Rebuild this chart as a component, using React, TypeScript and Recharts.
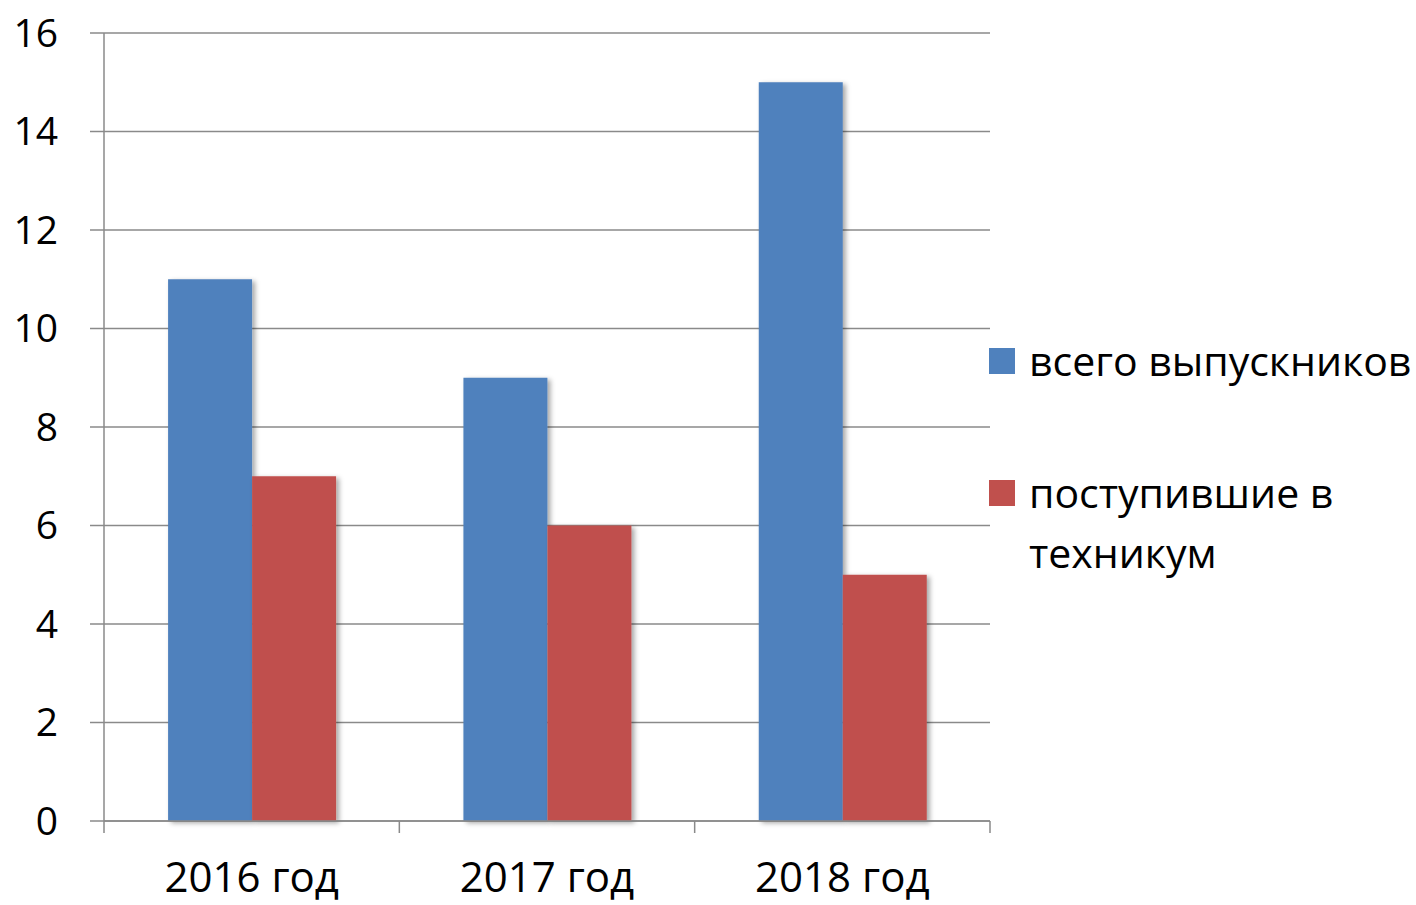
import { BarChart, Bar, XAxis, YAxis, CartesianGrid } from "recharts"

const years = ["2016 год", "2017 год", "2018 год"]
const graduates = [11, 9, 15]
const admitted = [7, 6, 5]
const yTicks = [0, 2, 4, 6, 8, 10, 12, 14, 16]

const SERIES = [
  { key: "graduates", name: "всего выпускников", color: "#4F81BD" },
  { key: "admitted", name: "поступившие в техникум", color: "#C0504D" },
]

const data = years.map((year, i) => ({
  year,
  graduates: graduates[i],
  admitted: admitted[i],
}))

const FONT = "'Open Sans', sans-serif"
const GRID = "#8a8a8a"
const X_TICK_SIZE = 12
const X_TICK_MARGIN = 29

function YearTick(props: any) {
  const { x, y, payload, index, visibleTicksCount } = props
  const half = payload?.offset ?? 147.7
  const axisY = y - X_TICK_SIZE - X_TICK_MARGIN
  const last = index === visibleTicksCount - 1
  return (
    <g>
      <line x1={x - half} x2={x - half} y1={axisY} y2={axisY + X_TICK_SIZE} stroke={GRID} strokeWidth={1.5} />
      {last && (
        <line x1={x + half} x2={x + half} y1={axisY} y2={axisY + X_TICK_SIZE} stroke={GRID} strokeWidth={1.5} />
      )}
      <text x={x} y={y} dy="0.71em" textAnchor="middle" fill="#000" fontSize={42} fontFamily={FONT}>
        {payload.value}
      </text>
    </g>
  )
}

export default function App() {
  return (
    <div style={{ position: "absolute", left: 0, top: 0, width: 1416, height: 905, background: "#fff" }}>
      <BarChart
        width={1416}
        height={905}
        data={data}
        margin={{ top: 33, right: 426, bottom: 0, left: 0 }}
        barCategoryGap="21.7%"
        barGap={0}
      >
        <defs>
          <filter id="barShadow" x="-10%" y="-10%" width="130%" height="130%">
            <feDropShadow dx={3} dy={2} stdDeviation={2.5} floodColor="#000" floodOpacity={0.35} />
          </filter>
        </defs>
        <CartesianGrid vertical={false} stroke={GRID} strokeWidth={1.5} />
        <XAxis
          dataKey="year"
          height={84}
          axisLine={{ stroke: GRID, strokeWidth: 1.5 }}
          tickLine={false}
          tickSize={X_TICK_SIZE}
          tickMargin={X_TICK_MARGIN}
          tick={<YearTick />}
          interval={0}
        />
        <YAxis
          width={104}
          domain={[0, 16]}
          ticks={yTicks}
          interval={0}
          axisLine={{ stroke: GRID, strokeWidth: 1.5 }}
          tickLine={{ stroke: GRID, strokeWidth: 1.5 }}
          tickSize={14}
          tickMargin={32}
          tick={{ fill: "#000", fontSize: 39, fontFamily: FONT }}
        />
        {SERIES.map((s) => (
          <Bar
            key={s.key}
            dataKey={s.key}
            name={s.name}
            fill={s.color}
            isAnimationActive={false}
            style={{ filter: "url(#barShadow)" }}
          />
        ))}
      </BarChart>

      {/* Legend */}
      <div
        style={{
          position: "absolute",
          left: 989,
          top: 330,
          width: 427,
          fontFamily: FONT,
          fontSize: 41,
          lineHeight: "60px",
          color: "#000",
        }}
      >
        {SERIES.map((s, i) => (
          <div key={s.key} style={{ display: "flex", alignItems: "flex-start", marginBottom: i === 0 ? 72 : 0 }}>
            <span
              style={{
                width: 26,
                height: 26,
                background: s.color,
                flexShrink: 0,
                marginTop: 18,
                marginRight: 14,
              }}
            />
            <span style={{ maxWidth: 386 }}>{s.name}</span>
          </div>
        ))}
      </div>
    </div>
  )
}
